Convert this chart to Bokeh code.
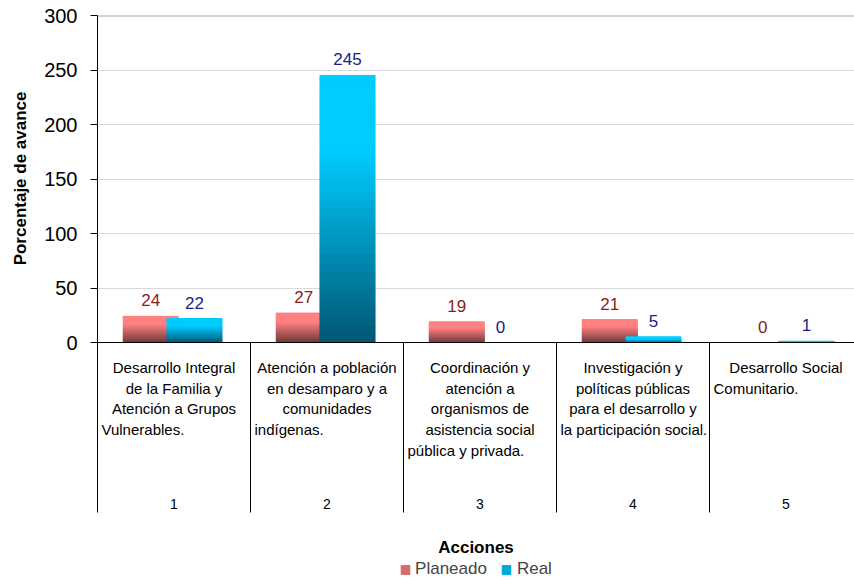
import math
from bokeh.plotting import figure
from bokeh.models import (ColumnDataSource, Range1d, FixedTicker, Span, Label, Title,
                          Legend, LegendItem)
from bokeh.core.properties import value
from bokeh.embed import file_html
from bokeh.resources import INLINE

# ---------------- data ----------------
categories = [1, 2, 3, 4, 5]
category_lines = [
    ["Desarrollo Integral", "de la Familia y", "Atención a Grupos", "Vulnerables."],
    ["Atención a población", "en desamparo y a", "comunidades", "indígenas."],
    ["Coordinación y", "atención a", "organismos de", "asistencia social", "pública y privada."],
    ["Investigación y", "políticas públicas", "para el desarrollo y", "la participación social."],
    ["Desarrollo Social", "Comunitario."],
]
planeado = [24, 27, 19, 21, 0]
real = [22, 245, 0, 5, 1]
y_ticks = [0, 50, 100, 150, 200, 250, 300]
series_names = ["Planeado", "Real"]
x_title = "Acciones"
y_title = "Porcentaje de avance"

# ---------------- styling / layout ----------------
FONT = "Liberation Sans"
PX_X = 153.0           # px per category
PX_Y = 1.09            # px per unit
FRAME_W = 757
FRAME_H = 567
BAR_W = 0.36
OFFS = [-0.152, 0.134]
N_SLICES = 30

plan_top, plan_bot = (255, 128, 128), (108, 56, 56)
real_top, real_bot = (0, 204, 255), (0, 86, 114)


def mix(c_top, c_bot, t):
    # t: 0 at bottom, 1 at top; upper part stays the light colour
    f = min(1.0, t / 0.72)
    c = [round(b + (a - b) * f) for a, b in zip(c_top, c_bot)]
    return "#%02x%02x%02x" % tuple(c)


x_end = 0.5 + FRAME_W / PX_X
y_start = 300 - FRAME_H / PX_Y

p = figure(width=854, height=582, x_range=Range1d(0.5, x_end),
           y_range=Range1d(y_start, 300), output_backend="svg",
           toolbar_location=None, x_axis_location=None,
           min_border_left=97, min_border_right=0, min_border_top=15,
           min_border_bottom=0)
p.outline_line_color = None
p.background_fill_color = "white"

# y axis
yax = p.yaxis[0]
yax.ticker = FixedTicker(ticks=y_ticks)
yax.bounds = (-(512 - 342) / PX_Y, 300)
yax.axis_line_color = "black"
yax.major_tick_line_color = "black"
yax.major_tick_out = 7
yax.major_tick_in = 0
yax.minor_tick_line_color = None
yax.major_label_text_font = FONT
yax.major_label_text_font_size = "20px"
yax.major_label_text_color = "black"
yax.major_label_standoff = 13

p.ygrid.ticker = FixedTicker(ticks=y_ticks)
p.ygrid.grid_line_color = "#d9d9d9"
p.xgrid.grid_line_color = None

# y title in the left panel
p.add_layout(Title(text=y_title, align="right", offset=76, vertical_align="top",
                   text_font=FONT, text_font_size="17px", text_font_style="bold",
                   text_color="black", standoff=20), "left")

# ---------------- gradient bars ----------------
def slices(vals, off, ctop, cbot):
    xs, bots, tops, cols = [], [], [], []
    for c, v in zip(categories, vals):
        if v <= 0:
            continue
        for i in range(N_SLICES):
            xs.append(c + off)
            bots.append(v * i / N_SLICES)
            tops.append(v * (i + 1) / N_SLICES)
            cols.append(mix(ctop, cbot, (i + 0.5) / N_SLICES))
    return ColumnDataSource(dict(x=xs, bottom=bots, top=tops, color=cols))

src_p = slices(planeado, OFFS[0], plan_top, plan_bot)
src_r = slices(real, OFFS[1], real_top, real_bot)
r_p = p.vbar(x="x", bottom="bottom", top="top", width=BAR_W, source=src_p,
             fill_color="color", line_color="color", line_width=1)
r_r = p.vbar(x="x", bottom="bottom", top="top", width=BAR_W, source=src_r,
             fill_color="color", line_color="color", line_width=1)

# value labels
p.text(x=[c + OFFS[0] for c in categories], y=planeado, text=[str(v) for v in planeado],
       text_font=value(FONT), text_font_size="17px", text_color="#8b1c1c",
       text_align="center", text_baseline="alphabetic", y_offset=-16)
p.text(x=[c + OFFS[1] for c in categories], y=real, text=[str(v) for v in real],
       text_font=value(FONT), text_font_size="17px", text_color="#1c1c8b",
       text_align="center", text_baseline="alphabetic", y_offset=-16)

# zero line and top gridline
p.add_layout(Span(location=0, dimension="width", line_color="black", line_width=1))
p.add_layout(Span(location=300, dimension="width", line_color="#a6a6a6", line_width=2))

# category table
bounds_x = [c + 0.5 for c in categories[:-1]]
p.segment(x0=bounds_x, y0=[0] * len(bounds_x), x1=bounds_x,
          y1=[-(512 - 342) / PX_Y] * len(bounds_x), line_color="black", line_width=1)

cx, cy, coff, ct = [], [], [], []
lx, ly, loff, lt = [], [], [], []
for c, lines in zip(categories, category_lines):
    for i, ln in enumerate(lines):
        if i == len(lines) - 1:
            lx.append(c - 0.5); ly.append(0); loff.append(25 + 20.7 * i); lt.append(ln)
        else:
            cx.append(c); cy.append(0); coff.append(25 + 20.7 * i); ct.append(ln)
p.text(x=cx, y=cy, y_offset=coff, text=ct, text_font=value(FONT), text_font_size="15px",
       text_color="black", text_align="center", text_baseline="middle")
p.text(x=lx, y=ly, y_offset=loff, x_offset=4, text=lt, text_font=value(FONT),
       text_font_size="15px", text_color="black", text_align="left", text_baseline="middle")
p.text(x=categories, y=[0] * len(categories), y_offset=161, text=[str(c) for c in categories],
       text_font=value(FONT), text_font_size="14px", text_color="black",
       text_align="center", text_baseline="middle")

# x title
p.add_layout(Label(x=(0.5 + x_end) / 2, y=-(547 - 342) / PX_Y, text=x_title,
                   text_font=FONT, text_font_size="17px", text_font_style="bold",
                   text_align="center", text_baseline="middle", text_color="black"))

# legend
legend = Legend(items=[LegendItem(label=series_names[0], renderers=[r_p], index=N_SLICES // 2),
                       LegendItem(label=series_names[1], renderers=[r_r], index=N_SLICES // 2)],
                location="bottom_center", orientation="horizontal",
                border_line_color=None, background_fill_alpha=0,
                glyph_width=11, glyph_height=11, label_text_font=FONT,
                label_text_font_size="17px", label_standoff=5, spacing=14,
                padding=0, margin=3, label_height=20)
p.add_layout(legend)

open("out.html", "w").write(file_html(p, INLINE))
